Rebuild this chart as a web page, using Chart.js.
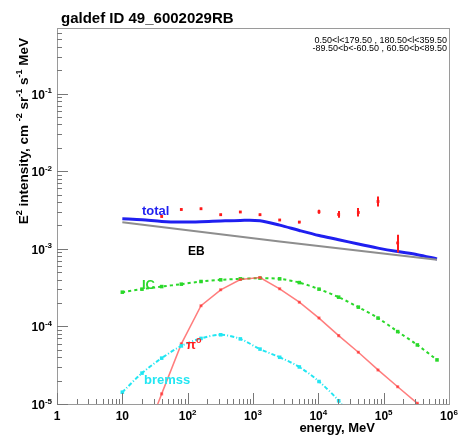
<!DOCTYPE html>
<html>
<head>
<meta charset="utf-8">
<script src="https://cdn.jsdelivr.net/npm/chart.js@4.4.0/dist/chart.umd.min.js"></script>
<style>
  html, body { margin: 0; padding: 0; background: #fff; }
  #wrap { width: 458px; height: 437px; }
</style>
</head>
<body>
<div id="wrap"><canvas id="grafico" width="458" height="437"></canvas></div>
<script>
// model energies (MeV)
const energias = [10, 20, 40, 80, 160, 320, 640, 1280, 2560, 5120, 10240, 20480, 40960, 81920, 163840, 327680, 655360];
const fluxoTotal = [2.44e-3, 2.37e-3, 2.25e-3, 2.21e-3, 2.23e-3, 2.28e-3, 2.32e-3, 2.30e-3, 2.02e-3, 1.72e-3, 1.48e-3, 1.31e-3, 1.15e-3, 1.02e-3, 9.2e-4, 8.4e-4, 7.4e-4];
const fluxoIC = [2.76e-4, 3.02e-4, 3.26e-4, 3.50e-4, 3.79e-4, 3.98e-4, 4.10e-4, 4.19e-4, 4.10e-4, 3.67e-4, 3.02e-4, 2.38e-4, 1.77e-4, 1.28e-4, 8.57e-5, 5.77e-5, 3.70e-5];
const fluxoPi0 = [null, 3.0e-6, 1.35e-5, 5.95e-5, 1.85e-4, 2.96e-4, 4.02e-4, 4.26e-4, 3.05e-4, 2.05e-4, 1.28e-4, 7.6e-5, 4.65e-5, 2.75e-5, 1.67e-5, 1.02e-5, 6.0e-6];
const fluxoBremss = [1.42e-5, 2.5e-5, 3.9e-5, 5.6e-5, 7.0e-5, 7.8e-5, 6.9e-5, 5.1e-5, 4.0e-5, 3.0e-5, 1.95e-5, 1.1e-5, 5.0e-6, null, null, null, null];

// extragalactic background (straight power law)
const energiasEB = [10, 2560, 655360];
const fluxoEB = [2.2e-3, 1.24e-3, 7.2e-4];

// measured points with error bars
const energiasDados = [40, 80, 160, 320, 640, 1280, 2560, 5120, 10240, 20480, 40960, 81920, 163840];
const fluxoDados = [2.61e-3, 3.21e-3, 3.28e-3, 2.75e-3, 2.98e-3, 2.75e-3, 2.35e-3, 2.21e-3, 3.0e-3, 2.77e-3, 2.94e-3, 4.07e-3, 1.19e-3];
const dadosMin = [2.53e-3, 3.11e-3, 3.18e-3, 2.67e-3, 2.89e-3, 2.67e-3, 2.28e-3, 2.14e-3, 2.82e-3, 2.51e-3, 2.61e-3, 3.52e-3, 8.96e-4];
const dadosMax = [2.69e-3, 3.31e-3, 3.38e-3, 2.83e-3, 3.07e-3, 2.83e-3, 2.42e-3, 2.28e-3, 3.18e-3, 3.06e-3, 3.35e-3, 4.73e-3, 1.52e-3];

// axes
const xMin = 1, xMax = 1e6;
const yMin = 1e-5, yMax = 0.7;
const xTicks = [1, 10, 100, 1e3, 1e4, 1e5, 1e6];
const xTickLabels = [['1', ''], ['10', ''], ['10', '2'], ['10', '3'], ['10', '4'], ['10', '5'], ['10', '6']];
const yTicks = [1e-5, 1e-4, 1e-3, 1e-2, 1e-1];
const yTickLabels = [['10', '-5'], ['10', '-4'], ['10', '-3'], ['10', '-2'], ['10', '-1']];

const fonte = '"Liberation Sans", Arial, sans-serif';

function pares(xs, ys) {
    return xs.map((x, i) => ({ x: x, y: ys[i] }));
}

// text with superscripts
function larguraRica(ctx, partes, tam) {
    let w = 0;
    partes.forEach(p => {
        ctx.font = 'bold ' + (p.sup ? Math.round(tam * 0.7) : tam) + 'px ' + fonte;
        w += ctx.measureText(p.t).width;
    });
    return w;
}
function textoRico(ctx, partes, x, y, tam, alinhar) {
    const w = larguraRica(ctx, partes, tam);
    let px = x;
    if (alinhar === 'center') px = x - w / 2;
    if (alinhar === 'right') px = x - w;
    ctx.textAlign = 'left';
    ctx.textBaseline = 'alphabetic';
    partes.forEach(p => {
        const t = p.sup ? Math.round(tam * 0.7) : tam;
        ctx.font = 'bold ' + t + 'px ' + fonte;
        ctx.fillText(p.t, px, p.sup ? y - tam * 0.45 : y);
        px += ctx.measureText(p.t).width;
    });
}

const eixosRoot = {
    id: 'eixosRoot',
    afterDatasetsDraw(chart) {
        const ctx = chart.ctx;
        const a = chart.chartArea;
        const sx = chart.scales.x, sy = chart.scales.y;
        ctx.save();

        // error bars of the data points
        ctx.strokeStyle = '#ff1a1a';
        ctx.lineWidth = 2;
        energiasDados.forEach((e, i) => {
            const px = Math.round(sx.getPixelForValue(e));
            ctx.beginPath();
            ctx.moveTo(px, sy.getPixelForValue(dadosMin[i]));
            ctx.lineTo(px, sy.getPixelForValue(dadosMax[i]));
            ctx.stroke();
        });

        // frame
        ctx.strokeStyle = '#9a9a9a';
        ctx.lineWidth = 1;
        ctx.strokeRect(Math.round(a.left) + 0.5, Math.round(a.top) + 0.5, Math.round(a.width), Math.round(a.height));

        // x ticks
        ctx.strokeStyle = '#777';
        ctx.beginPath();
        for (let d = 0; d < 6; d++) {
            for (let m = 1; m <= 9; m++) {
                const v = Math.pow(10, d) * m;
                const px = Math.round(sx.getPixelForValue(v)) + 0.5;
                const len = m === 1 ? 11 : 5;
                ctx.moveTo(px, a.bottom);
                ctx.lineTo(px, a.bottom - len);
            }
        }
        // y ticks
        for (let d = -5; d < 0; d++) {
            for (let m = 1; m <= 9; m++) {
                const v = Math.pow(10, d) * m;
                if (v > yMax) continue;
                const py = Math.round(sy.getPixelForValue(v)) + 0.5;
                const len = m === 1 ? 11 : 5;
                ctx.moveTo(a.left, py);
                ctx.lineTo(a.left + len, py);
            }
        }
        ctx.stroke();

        // tick labels
        ctx.fillStyle = '#000';
        xTicks.forEach((v, i) => {
            const lab = xTickLabels[i];
            const partes = [{ t: lab[0] }];
            if (lab[1]) partes.push({ t: lab[1], sup: true });
            textoRico(ctx, partes, sx.getPixelForValue(v), 420, 12, 'center');
        });
        yTicks.forEach((v, i) => {
            const lab = yTickLabels[i];
            textoRico(ctx, [{ t: lab[0] }, { t: lab[1], sup: true }], 52, sy.getPixelForValue(v) + 5, 12, 'right');
        });

        // axis titles
        textoRico(ctx, [{ t: 'energy, MeV' }], 375, 432, 13, 'right');
        ctx.save();
        ctx.translate(28, 38);
        ctx.rotate(-Math.PI / 2);
        textoRico(ctx, [
            { t: 'E' }, { t: '2', sup: true }, { t: ' intensity, cm ' }, { t: '-2', sup: true },
            { t: ' sr' }, { t: '-1', sup: true }, { t: ' s' }, { t: '-1', sup: true }, { t: ' MeV' }
        ], 0, 0, 13.5, 'right');
        ctx.restore();

        // title
        ctx.font = 'bold 15px ' + fonte;
        ctx.textAlign = 'left';
        ctx.fillText('galdef ID 49_6002029RB', 61, 23);

        // sky region
        ctx.font = '9px ' + fonte;
        ctx.textAlign = 'right';
        ctx.fillText('0.50<l<179.50 , 180.50<l<359.50', 447, 43);
        ctx.fillText('-89.50<b<-60.50 , 60.50<b<89.50', 447, 51);

        // component labels
        ctx.fillStyle = '#1f1ff0';
        textoRico(ctx, [{ t: 'total' }], 142, 215, 13, 'left');
        ctx.fillStyle = '#000';
        textoRico(ctx, [{ t: 'EB' }], 188, 255, 12, 'left');
        ctx.fillStyle = '#2ad82a';
        textoRico(ctx, [{ t: 'IC' }], 142, 289, 13, 'left');
        ctx.fillStyle = '#ff2020';
        textoRico(ctx, [{ t: 'π' }, { t: 'o', sup: true }], 186, 349, 13, 'left');
        ctx.fillStyle = '#22e6f2';
        textoRico(ctx, [{ t: 'bremss' }], 144, 384, 13, 'left');

        ctx.restore();
    }
};

const ctx = document.getElementById('grafico');
new Chart(ctx, {
    type: 'line',
    data: {
        datasets: [
            {
                label: 'EB',
                data: pares(energiasEB, fluxoEB),
                borderColor: '#8e8e8e',
                borderWidth: 2,
                pointRadius: 0
            },
            {
                label: 'bremss',
                data: pares(energias, fluxoBremss),
                borderColor: '#22e6f2',
                backgroundColor: '#22e6f2',
                borderWidth: 2,
                borderDash: [4, 2, 1, 2],
                pointRadius: 1.1,
                pointStyle: 'rect',
                tension: 0.3
            },
            {
                label: 'pi0',
                data: pares(energias, fluxoPi0),
                borderColor: 'rgba(255, 70, 70, 0.7)',
                backgroundColor: '#ff2020',
                borderWidth: 1.5,
                pointRadius: 1.1,
                pointStyle: 'rect',
                tension: 0
            },
            {
                label: 'IC',
                data: pares(energias, fluxoIC),
                borderColor: '#2ad82a',
                backgroundColor: '#2ad82a',
                borderWidth: 2,
                borderDash: [3, 3],
                pointRadius: 1.1,
                pointStyle: 'rect',
                tension: 0.3
            },
            {
                label: 'total',
                data: pares(energias, fluxoTotal),
                borderColor: '#1f1ff0',
                backgroundColor: '#1f1ff0',
                borderWidth: 3,
                pointRadius: 0,
                tension: 0.3
            },
            {
                label: 'data',
                data: pares(energiasDados, fluxoDados),
                showLine: false,
                borderColor: '#ff1a1a',
                backgroundColor: '#ff1a1a',
                pointStyle: 'rect',
                pointRadius: 2,
                borderWidth: 0
            }
        ]
    },
    options: {
        responsive: false,
        animation: false,
        devicePixelRatio: 1,
        layout: { padding: { left: 57, top: 28, right: 9, bottom: 33 } },
        plugins: { legend: { display: false }, tooltip: { enabled: false } },
        scales: {
            x: { type: 'logarithmic', min: xMin, max: xMax, display: false },
            y: { type: 'logarithmic', min: yMin, max: yMax, display: false }
        }
    },
    plugins: [eixosRoot]
});
</script>
</body>
</html>
